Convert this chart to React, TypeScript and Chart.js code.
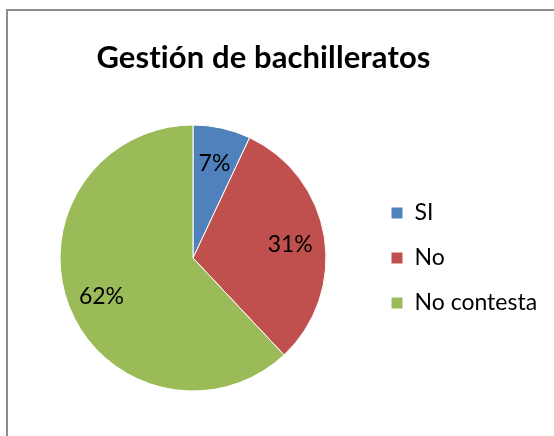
import React, { useEffect, useRef } from "react";
import { Chart, registerables } from "chart.js";

Chart.register(...registerables);

const TITLE = "Gestión de bachilleratos";
const categories = ["SI", "No", "No contesta"];
const values = [7, 31, 62];
const colors = ["#4F81BD", "#C0504D", "#9BBB59"];

const FONT = "Lato";
const LABEL_SIZE = 23;
const LEGEND_PAD = 22;
const BOX = 12;

const sliceLabels = {
  id: "sliceLabels",
  afterDatasetsDraw(chart: any) {
    const ctx = chart.ctx;
    const meta = chart.getDatasetMeta(0);
    const total = values.reduce((a, b) => a + b, 0);
    ctx.save();
    ctx.font = `${LABEL_SIZE}px ${FONT}`;
    ctx.fillStyle = "#000";
    ctx.textAlign = "center";
    ctx.textBaseline = "middle";
    meta.data.forEach((arc: any, i: number) => {
      const { x, y, startAngle, endAngle, outerRadius } = arc.getProps(
        ["x", "y", "startAngle", "endAngle", "outerRadius"],
        true
      );
      const mid = (startAngle + endAngle) / 2;
      const r = outerRadius * 0.74;
      ctx.fillText(
        Math.round((values[i] / total) * 100) + "%",
        x + Math.cos(mid) * r,
        y + Math.sin(mid) * r + 2
      );
    });
    ctx.restore();
  },
};

const titleText = {
  id: "titleText",
  afterDraw(chart: any) {
    const ctx = chart.ctx;
    ctx.save();
    ctx.font = `bold 31px ${FONT}`;
    try {
      (ctx as any).letterSpacing = "0.1px";
    } catch (e) {}
    ctx.fillStyle = "#000";
    ctx.textAlign = "center";
    ctx.textBaseline = "middle";
    ctx.fillText(TITLE, 263.5, 58);
    ctx.restore();
  },
};

function measure(text: string, font: string) {
  const c = document.createElement("canvas");
  const ctx = c.getContext("2d")!;
  ctx.font = font;
  return ctx.measureText(text).width;
}

export default function App() {
  const ref = useRef<HTMLCanvasElement>(null);
  useEffect(() => {
    if (!ref.current) return;
    const widest = Math.max(
      ...categories.map((c) => measure(c, `${LABEL_SIZE}px ${FONT}`))
    );
    const legendW = LEGEND_PAD + BOX + LABEL_SIZE / 2 + widest + 10;
    const legendLeft = 391 - LEGEND_PAD;
    const right = Math.max(0, 554 - legendLeft - legendW);
    const chart = new Chart(ref.current, {
      type: "pie",
      data: {
        labels: categories,
        datasets: [
          {
            data: values,
            backgroundColor: colors,
            borderColor: "#ffffff",
            borderWidth: 1,
          },
        ],
      },
      options: {
        animation: false,
        responsive: false,
        devicePixelRatio: 1,
        radius: 133,
        layout: { padding: { left: 17, right: right, top: 100, bottom: 20 } },
        plugins: {
          tooltip: { enabled: false },
          title: { display: false },
          legend: {
            display: true,
            position: "right",
            fullSize: false,
            labels: {
              color: "#000",
              font: { family: FONT, size: LABEL_SIZE },
              boxWidth: BOX,
              boxHeight: BOX,
              padding: LEGEND_PAD,
            },
          },
        },
      },
      plugins: [sliceLabels, titleText],
    });
    return () => chart.destroy();
  }, []);
  return (
    <div
      style={{
        position: "fixed",
        left: 0,
        top: 0,
        width: 554,
        height: 436,
        overflow: "hidden",
        background: "#fff",
      }}
    >
      <div
        style={{
          position: "absolute",
          left: 6,
          top: 9,
          width: 700,
          height: 700,
          border: "2px solid #8c8c8c",
        }}
      />
      <canvas
        ref={ref}
        width={554}
        height={436}
        style={{ position: "absolute", left: 0, top: 0, width: 554, height: 436 }}
      />
    </div>
  );
}
